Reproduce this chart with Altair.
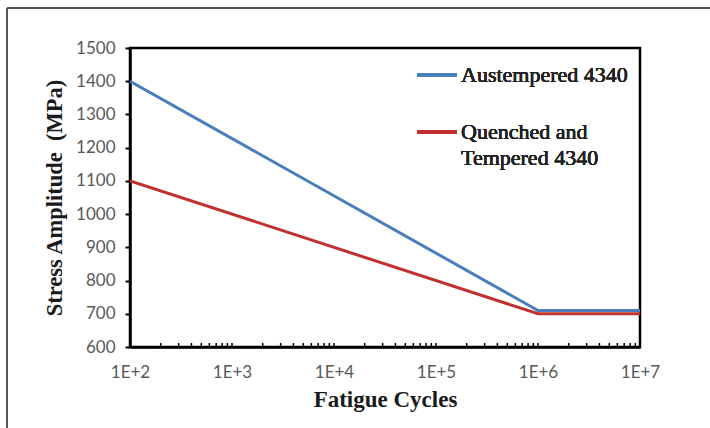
import altair as alt
import pandas as pd

# ---- data ----
series_names = ["Austempered 4340", "Quenched and Tempered 4340"]
cycles = [1e2, 1e6, 1e7]
austempered = [1400, 710, 710]
quenched = [1100, 700, 700]
x_ticks = [1e2, 1e3, 1e4, 1e5, 1e6, 1e7]
y_ticks = [600, 700, 800, 900, 1000, 1100, 1200, 1300, 1400, 1500]
minor_ticks = [m * 10 ** k for k in range(2, 7) for m in range(2, 11)]

colors = ["#4a7ebb", "#c0302e"]

df = pd.DataFrame({
    "cycles": cycles * 2,
    "stress": austempered + quenched,
    "series": [series_names[0]] * 3 + [series_names[1]] * 3,
})
minor_df = pd.DataFrame({"pos": minor_ticks})

W, H = 510, 299
PAD_L, PAD_T = 130, 48

xscale = alt.Scale(type="log", domain=[1e2, 1e7])
yscale = alt.Scale(domain=[600, 1500])

lines = alt.Chart(df).mark_line(strokeWidth=3, clip=True).encode(
    x=alt.X("cycles:Q", scale=xscale,
            axis=alt.Axis(values=x_ticks, title="Fatigue Cycles",
                          labelExpr="'1E+' + round(log(datum.value)/LN10)",
                          labelFlush=False, labelOverlap=False,
                          ticks=False, tickSize=0, labelPadding=17,
                          titlePadding=8, titleFontSize=23)),
    y=alt.Y("stress:Q", scale=yscale,
            axis=alt.Axis(values=y_ticks, format="d",
                          title="Stress Amplitude\u00a0 (MPa)",
                          tickSize=5, labelPadding=10, titlePadding=9,
                          titleFontSize=22.5)),
    color=alt.Color("series:N", scale=alt.Scale(domain=series_names, range=colors),
                    legend=None),
)

minor = alt.Chart(minor_df).mark_rule(color="black", strokeWidth=1.5).encode(
    x=alt.X("pos:Q", scale=xscale),
    y=alt.value(H),
    y2=alt.value(H - 4),
)

# manual legend (inside the plot, top right)
LEG_X1, LEG_X2, LEG_TX = 287, 327, 331
leg_line_a = alt.Chart(df).mark_rule(color=colors[0], strokeWidth=3).encode(
    x=alt.value(LEG_X1), x2=alt.value(LEG_X2), y=alt.value(27))
leg_line_b = alt.Chart(df).mark_rule(color=colors[1], strokeWidth=3).encode(
    x=alt.value(LEG_X1), x2=alt.value(LEG_X2), y=alt.value(84))
txt_style = dict(align="left", baseline="middle", font="Liberation Serif",
                 fontSize=22, color="#222222")
leg_txt_a = alt.Chart(df).mark_text(text="Austempered 4340", **txt_style).encode(
    x=alt.value(LEG_TX), y=alt.value(27))
leg_txt_b1 = alt.Chart(df).mark_text(text="Quenched and", **txt_style).encode(
    x=alt.value(LEG_TX), y=alt.value(84))
leg_txt_b2 = alt.Chart(df).mark_text(text="Tempered 4340", **txt_style).encode(
    x=alt.value(LEG_TX), y=alt.value(110))

# outer picture frame (top and left edges visible)
frame_top = alt.Chart(df).mark_rule(color="#555555", strokeWidth=2).encode(
    x=alt.value(7 - PAD_L), x2=alt.value(720 - PAD_L), y=alt.value(8 - PAD_T))
frame_left = alt.Chart(df).mark_rule(color="#555555", strokeWidth=2).encode(
    x=alt.value(7 - PAD_L), y=alt.value(8 - PAD_T), y2=alt.value(440 - PAD_T))

chart = alt.layer(
    minor, lines, leg_line_a, leg_line_b, leg_txt_a, leg_txt_b1, leg_txt_b2,
    frame_top, frame_left,
).properties(
    width=W, height=H,
    autosize=alt.AutoSizeParams(type="none"),
    padding={"left": PAD_L, "top": PAD_T, "right": 710 - PAD_L - W, "bottom": 428 - PAD_T - H},
    background="white",
).configure_view(
    stroke="black", strokeWidth=2.5,
).configure_axis(
    grid=False,
    domainColor="black", domainWidth=2.5,
    tickColor="black", tickWidth=2,
    labelFont="Lato", labelFontSize=17, labelColor="#595959",
    titleFont="Liberation Serif", titleFontWeight="bold",
    titleColor="#1a1a1a",
)

chart.save("out.html", embed_options={"renderer": "svg", "actions": False})
